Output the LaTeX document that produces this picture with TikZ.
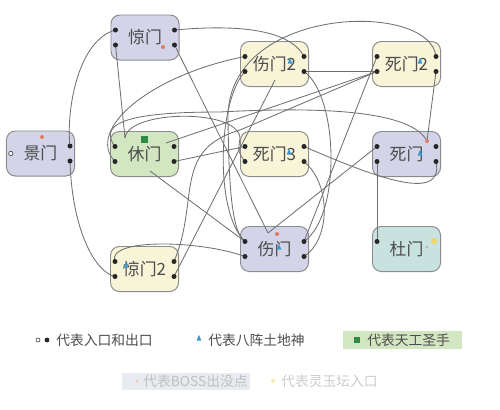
\documentclass[tikz,border=0pt]{standalone}
\usepackage{fontspec}
\setmainfont{Noto Sans CJK SC}
\usetikzlibrary{shapes.geometric}

\definecolor{gatepurple}{HTML}{D3D4E8}
\definecolor{gateyellow}{HTML}{F7F4D8}
\definecolor{gategreen}{HTML}{D3E6C2}
\definecolor{gateteal}{HTML}{C8E2E0}
\definecolor{gateline}{HTML}{8C8C8C}
\definecolor{wireline}{HTML}{707070}
\definecolor{bossred}{HTML}{E07A66}
\definecolor{godblue}{HTML}{3C9AD2}
\definecolor{smithgreen}{HTML}{2E8B45}
\definecolor{jadeyellow}{HTML}{F0D468}
\definecolor{legendgrey}{HTML}{E8ECF0}

\tikzset{
  gate/.style={draw=gateline, line width=0.7pt, rounded corners=0.22cm,
    minimum width=1.7cm, minimum height=1.125cm, inner sep=0pt,
    font=\fontsize{12}{12}\selectfont, text=black!70},
  port/.style={circle, fill=black!85, inner sep=0pt, minimum size=0.125cm},
  wire/.style={draw=wireline, line width=0.6pt},
  boss/.style={circle, fill=bossred, inner sep=0pt, minimum size=0.1cm},
  god/.style={isosceles triangle, shape border rotate=90, fill=godblue,
    inner sep=0pt, minimum height=0.12cm, minimum width=0.12cm},
  legend/.style={anchor=west, inner sep=0pt, font=\fontsize{9.8}{9.8}\selectfont}
}

\begin{document}
\begin{tikzpicture}[x=0.025cm, y=-0.025cm]
  \useasboundingbox (0,0) rectangle (500,409);

  % gates
  \node [gate, fill=gatepurple] (jing1) at (145,37.5) {惊门};
  \node [gate, fill=gateyellow] (shang2) at (274.5,64) {伤门2};
  \node [gate, fill=gateyellow] (si2) at (406.5,64) {死门2};
  \node [gate, fill=gatepurple] (jingmen) at (40.5,153.5) {景门};
  \node [gate, fill=gategreen] (xiu) at (144.5,154) {休门};
  \node [gate, fill=gateyellow] (si3) at (274.5,154) {死门3};
  \node [gate, fill=gatepurple] (si1) at (406.5,154) {死门};
  \node [gate, fill=gateyellow] (jing2) at (144.5,269) {惊门2};
  \node [gate, fill=gatepurple] (shang1) at (274.5,249) {伤门};
  \node [gate, fill=gateteal] (du) at (406.5,249) {杜门};

  % entry and exit points
  \foreach \g in {jing1,shang2,si2,jingmen,xiu,si3,si1,jing2,shang1,du} {
    \coordinate (\g-lt) at ([shift={(5,-7.5)}]\g.west);
    \coordinate (\g-lb) at ([shift={(5,7.5)}]\g.west);
    \coordinate (\g-rt) at ([shift={(-5,-7.5)}]\g.east);
    \coordinate (\g-rb) at ([shift={(-5,7.5)}]\g.east);
  }
  \coordinate (xiu-a) at (125,138);
  \coordinate (xiu-b) at (166,143);
  \coordinate (xiu-c) at (150,171);
  \coordinate (shang2-a) at (275,80);
  \coordinate (shang1-a) at (268,233);
  \coordinate (si1-a) at (427,141);

  % connectors
  \draw [wire] (jing1-lt) .. controls (78,40) and (66,110) .. (jingmen-rt);
  \draw [wire] (jingmen-rb) .. controls (72,230) and (95,272) .. (jing2-lb);
  \draw [wire] (jing1-lb) -- (xiu-a);
  \draw [wire] (jing1-rt) .. controls (240,24) and (290,30) .. (shang2-rt);
  \draw [wire] (jing1-rb) -- (shang1-a);
  \draw [wire] (shang2-rb) -- (si2-lb);
  \draw [wire] (shang2-rb) .. controls (338,95) and (342,215) .. (shang1-rt);
  \draw [wire] (si3-rt) .. controls (370,175) and (445,205) .. (si1-rb);
  \draw [wire] (si3-rb) .. controls (332,185) and (330,240) .. (shang1-rb);
  \draw [wire] (si2-rt) .. controls (430,0) and (225,5) .. (228,120)
    .. controls (229,190) and (232,232) .. (shang1-lt);
  \draw [wire] (shang2-lt) .. controls (150,75) and (85,130) .. (xiu-lb);
  \draw [wire] (xiu-a) .. controls (128,110) and (238,108) .. (240,138)
    .. controls (238,152) .. (si3-lb);
  \draw [wire] (xiu-b) -- (si2-lb);
  \draw [wire] (si2-lt) -- (shang1-rt);
  \draw [wire] (jing2-rt) .. controls (200,200) and (172,150) .. (240,130) -- (si2-lb);
  \draw [wire] (xiu-rb) -- (si3-lt);
  \draw [wire] (xiu-c) -- (shang1-lt);
  \draw [wire] (jing2-lt) .. controls (106,238) and (200,240) .. (shang1-lb);
  \draw [wire] (shang2-a) -- (jing2-rb);
  \draw [wire] (xiu-lt) .. controls (95,120) and (140,112) .. (220,112)
    .. controls (330,106) and (412,112) .. (si1-a);
  \draw [wire] (si2-rb) -- (si1-a);
  \draw [wire] (si1-lb) -- (du-lt);
  \draw [wire] (si1-lt) -- (shang1-a);
  \draw [wire] (shang2-lb) .. controls (218,100) and (214,212) .. (shang1-lt);

  % dots on the gates
  \foreach \g in {jing1,shang2,si2,xiu,si3,si1,jing2,shang1} {
    \node [port] at (\g-lt) {};
    \node [port] at (\g-lb) {};
    \node [port] at (\g-rt) {};
    \node [port] at (\g-rb) {};
  }
  \node [port] at (jingmen-rt) {};
  \node [port] at (jingmen-rb) {};
  \node [port] at (du-lt) {};
  \node [circle, draw=black!80, fill=white, inner sep=0pt, minimum size=0.11cm]
    at ([xshift=0.12cm]jingmen.west) {};

  % boss points, earth gods, craftsman, jade altar
  \node [boss] at (163,47) {};
  \node [boss] at (42,137) {};
  \node [boss] at (si1-a) {};
  \node [boss] at (277,234) {};
  \node [god] at (290,62) {};
  \node [god] at (420,62) {};
  \node [god] at (420,154) {};
  \node [god] at (289,153) {};
  \node [god] at (279,248) {};
  \node [god] at (126,266) {};
  \fill [smithgreen] (140.5,135.5) rectangle (147.5,142.5);
  \node [circle, fill=jadeyellow, inner sep=0pt, minimum size=0.15cm] at (434,241) {};
  \node [circle, fill=bossred!70, inner sep=0pt, minimum size=0.07cm] at (427,247) {};

  % legend
  \node [circle, draw=black!80, fill=white, inner sep=0pt, minimum size=0.1cm] at (38,340) {};
  \node [circle, fill=black!85, inner sep=0pt, minimum size=0.12cm] at (47,340) {};
  \node [legend, text=black!70] (leg-port) at (56,340) {代表入口和出口};
  \node [god] at (199,339) {};
  \node [legend, text=black!70] (leg-god) at (208,340) {代表八阵土地神};
  \fill [gategreen] (343,331) rectangle (462,349);
  \fill [smithgreen] (354,337) rectangle (360,343);
  \node [legend, text=black!70] (leg-smith) at (367,340) {代表天工圣手};
  \fill [legendgrey] (122,373) rectangle (250,390);
  \node [circle, fill=bossred!45, inner sep=0pt, minimum size=0.08cm] at (137,381) {};
  \node [legend, text=black!25] (leg-boss) at (143,381) {代表BOSS出没点};
  \node [circle, fill=jadeyellow!50, inner sep=0pt, minimum size=0.1cm] at (273,381) {};
  \node [legend, text=black!20] (leg-jade) at (281,381) {代表灵玉坛入口};
\end{tikzpicture}
\end{document}
